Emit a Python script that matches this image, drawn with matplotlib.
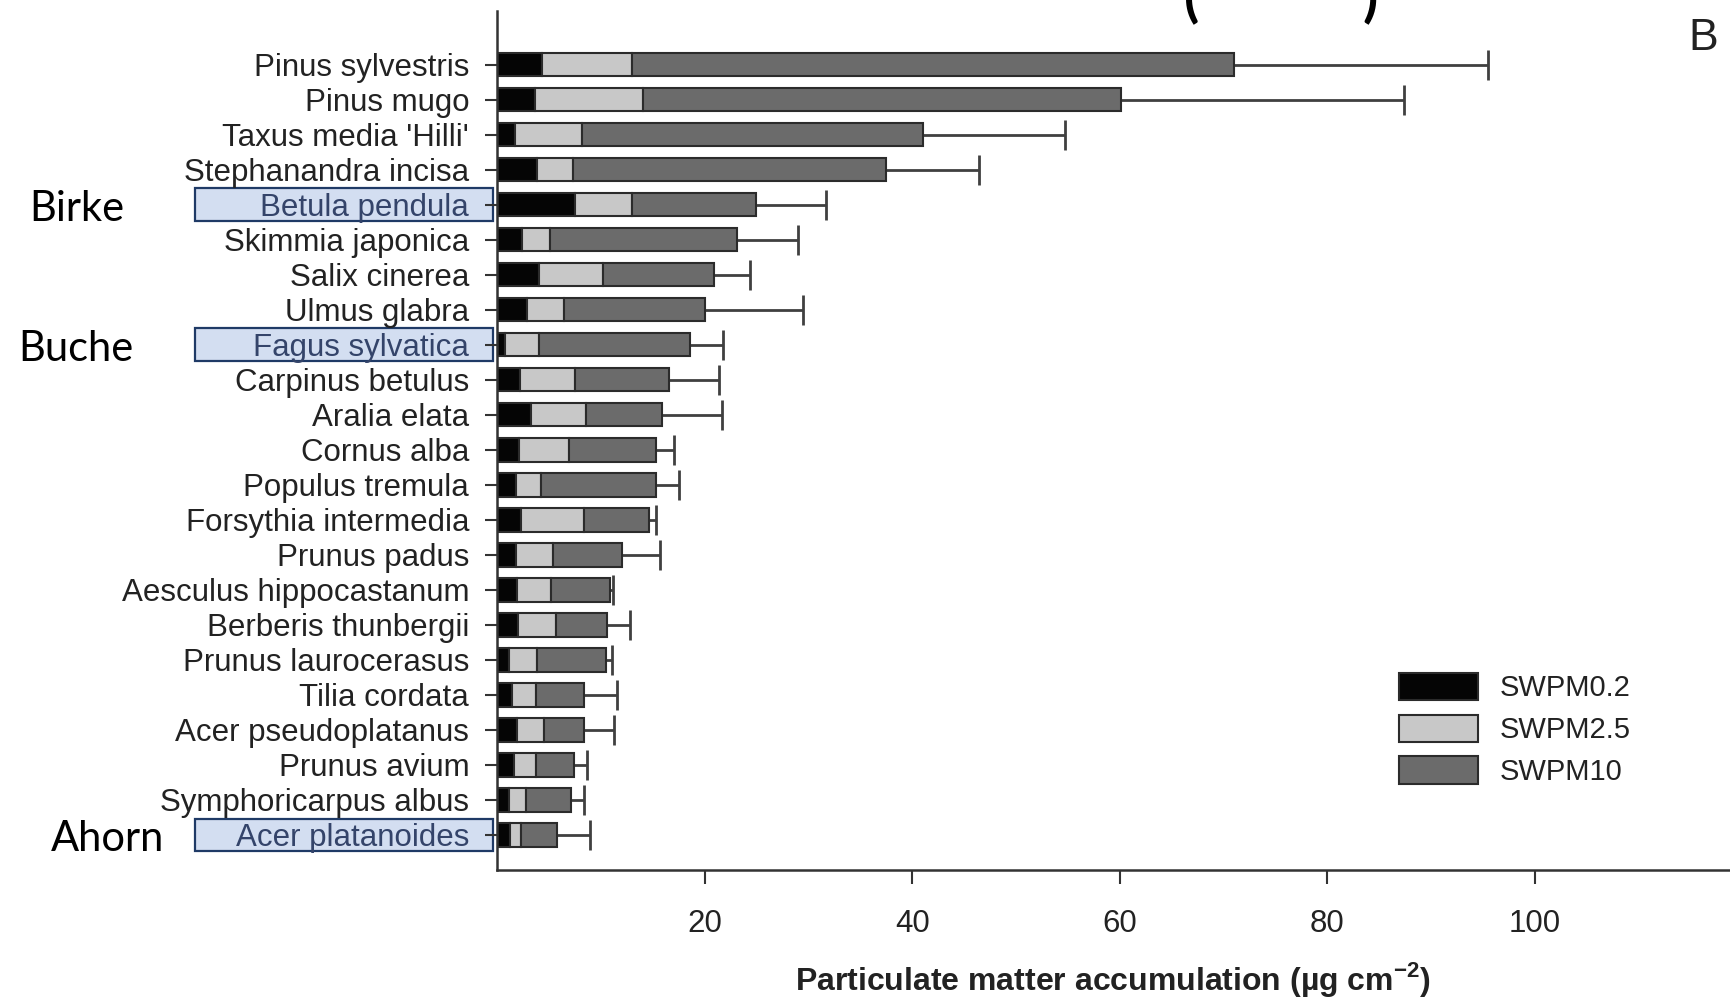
import numpy as np
import matplotlib.pyplot as plt
from matplotlib.patches import Rectangle
from matplotlib.transforms import blended_transform_factory

plt.rcParams['font.family'] = ['Liberation Sans', 'DejaVu Sans']
plt.rcParams['mathtext.fontset'] = 'custom'
plt.rcParams['mathtext.rm'] = 'Liberation Sans'
plt.rcParams['mathtext.bf'] = 'Liberation Sans:bold'

species = ["Pinus sylvestris", "Pinus mugo", "Taxus media 'Hilli'", "Stephanandra incisa",
           "Betula pendula", "Skimmia japonica", "Salix cinerea", "Ulmus glabra",
           "Fagus sylvatica", "Carpinus betulus", "Aralia elata", "Cornus alba",
           "Populus tremula", "Forsythia intermedia", "Prunus padus",
           "Aesculus hippocastanum", "Berberis thunbergii", "Prunus laurocerasus",
           "Tilia cordata", "Acer pseudoplatanus", "Prunus avium",
           "Symphoricarpus albus", "Acer platanoides"]

# accumulation per fraction (ug cm-2)
swpm02 = [4.35, 3.7, 1.7, 3.9, 7.5, 2.4, 4.0, 2.9, 0.75, 2.2, 3.3, 2.1,
          1.8, 2.3, 1.8, 1.9, 2.0, 1.2, 1.4, 1.9, 1.6, 1.2, 1.3]
swpm25 = [8.65, 10.4, 6.5, 3.4, 5.5, 2.7, 6.2, 3.6, 3.25, 5.3, 5.3, 4.8,
          2.4, 6.1, 3.6, 3.3, 3.7, 2.7, 2.4, 2.6, 2.2, 1.6, 1.0]
swpm10 = [58.0, 46.0, 32.8, 30.2, 12.0, 18.0, 10.7, 13.5, 14.6, 9.1, 7.3, 8.4,
          11.1, 6.2, 6.6, 5.7, 4.9, 6.6, 4.6, 3.9, 3.6, 4.3, 3.5]
sd_total = [24.5, 27.3, 13.7, 8.9, 6.7, 5.9, 3.5, 9.5, 3.2, 4.8, 5.8, 1.8,
            2.2, 0.7, 3.7, 0.3, 2.2, 0.6, 3.2, 2.9, 1.3, 1.3, 3.2]

series_names = ["SWPM0.2", "SWPM2.5", "SWPM10"]
highlight = {"Betula pendula": "Birke", "Fagus sylvatica": "Buche",
             "Acer platanoides": "Ahorn"}

fig = plt.figure(figsize=(17.3, 9.97), dpi=100)
ax = fig.add_axes([497 / 1730, 1 - 870 / 997, 1 - 497 / 1730, 859 / 997])

y = np.arange(len(species))
h = 0.66
edge = '#2b2b2b'
b1 = ax.barh(y, swpm02, height=h, color='#050505', edgecolor=edge, lw=1.5)
left = np.array(swpm02)
b2 = ax.barh(y, swpm25, left=left, height=h, color='#c8c8c8', edgecolor=edge, lw=1.5)
left = left + np.array(swpm25)
b3 = ax.barh(y, swpm10, left=left, height=h, color='#6b6b6b', edgecolor=edge, lw=1.5)
total = left + np.array(swpm10)
err_end = total + np.array(sd_total)

ax.hlines(y, total, err_end, color='#404040', lw=2.0, zorder=0.9)
ax.plot(err_end, y, ls='none', marker='|', ms=22, mew=2.0, color='#404040')

# highlight boxes around some species names
bt = blended_transform_factory(fig.transFigure, ax.transData)
for i, name in enumerate(species):
    if name in highlight:
        ax.add_patch(Rectangle((195 / 1730, i - 0.47), 298 / 1730, 0.94, transform=bt,
                               facecolor='#d3def1', edgecolor='#1f3a66', lw=1.6,
                               clip_on=False, zorder=1.2))
        xl = {"Birke": 29, "Buche": 18, "Ahorn": 51}[highlight[name]]
        ax.text(xl / 1730, i + 0.12, highlight[name], transform=bt, fontsize=30,
                family=['Lato', 'DejaVu Sans'], va='center', ha='left', color='black')

ax.set_xlim(0, 118.8)
ax.set_ylim(23.0, -1.54)
ax.set_yticks(y)
ax.set_yticklabels(species, fontsize=22.5, color='#222222')
for lab in ax.get_yticklabels():
    if lab.get_text() in highlight:
        lab.set_color('#34446a')
ax.set_xticks([20, 40, 60, 80, 100])
ax.tick_params(axis='x', length=10, width=1.5, pad=18, labelsize=22.5,
               color='#333333', labelcolor='#222222')
ax.tick_params(axis='y', length=9, width=1.5, pad=11, color='#333333')
for s in ['top', 'right']:
    ax.spines[s].set_visible(False)
for s in ['left', 'bottom']:
    ax.spines[s].set_linewidth(1.8)
    ax.spines[s].set_color('#333333')

ax.set_xlabel(r'Particulate matter accumulation (µg cm$^{\mathbf{-2}}$)',
              fontsize=23, fontweight='bold', labelpad=15, color='#222222')

ax.legend([b1, b2, b3], series_names, loc='upper left',
          bbox_to_anchor=(1399 / 1730, 1 - 673 / 997), bbox_transform=fig.transFigure,
          frameon=False, fontsize=21, handlelength=2.7, handleheight=1.05,
          handletextpad=0.75, labelspacing=0.42, borderpad=0, borderaxespad=0,
          labelcolor='#222222')

fig.text(1703 / 1730, 1 - 39 / 997, 'B', fontsize=32, ha='center', va='center',
         color='#222222')
# bits of a cropped title above the panel
fig.text(1192 / 1730, 1 - 16 / 997, '(', fontsize=40, fontweight='bold',
         family=['Lato', 'DejaVu Sans'], ha='center', va='baseline')
fig.text(1370 / 1730, 1 - 16 / 997, ')', fontsize=40, fontweight='bold',
         family=['Lato', 'DejaVu Sans'], ha='center', va='baseline')

fig.savefig('out.png', dpi=100)
